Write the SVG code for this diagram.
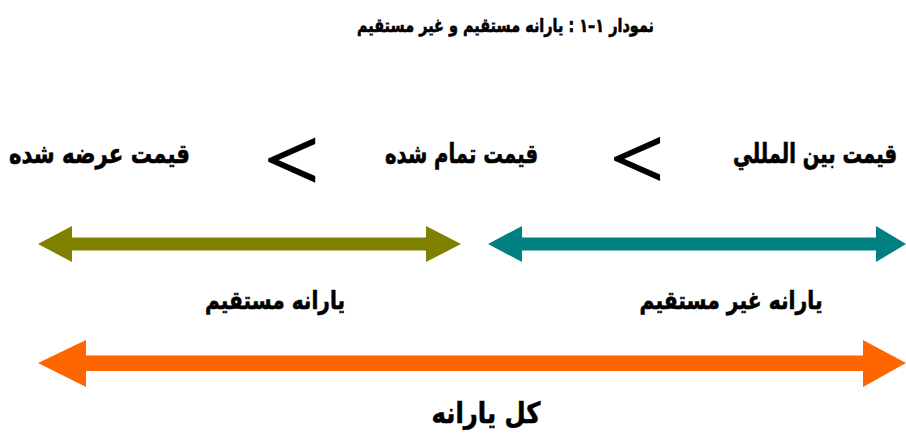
<svg xmlns="http://www.w3.org/2000/svg" width="906" height="437" viewBox="0 0 906 437">
  <style>
    .fa { font-family: "DejaVu Sans", "Noto Sans", sans-serif; font-weight: bold; fill: #000; stroke: #000; stroke-width: 0.6; direction: rtl; }
    .lt { font-family: "Liberation Serif", "Times New Roman", serif; fill: #000; stroke: #000; stroke-width: 2; }
    .olive { fill: #808000; }
    .teal { fill: #008080; }
    .orange { fill: #FF6600; }
  </style>
  <rect width="906" height="437" fill="#fff"/>

  <!-- title -->
  <g id="title">
    <text class="fa" x="505.5" y="32" font-size="19" text-anchor="middle" textLength="297" lengthAdjust="spacingAndGlyphs">نمودار ۱–۱ : يارانه مستقيم و غير مستقيم</text>
  </g>

  <!-- price levels -->
  <g id="price-international">
    <text class="fa" transform="translate(815 163) scale(1 1.2)" font-size="22.5" text-anchor="middle" textLength="164" lengthAdjust="spacingAndGlyphs">قيمت بين المللي</text>
  </g>
  <g id="price-final">
    <text class="fa" x="461.5" y="163" font-size="27" text-anchor="middle" textLength="153" lengthAdjust="spacingAndGlyphs">قيمت تمام شده</text>
  </g>
  <g id="price-supply">
    <text class="fa" x="99.5" y="163" font-size="27" text-anchor="middle" textLength="181" lengthAdjust="spacingAndGlyphs">قيمت عرضه شده</text>
  </g>

  <!-- comparison signs -->
  <g id="less-than-1">
    <text class="lt" transform="translate(264.5 189) scale(1.12 1)" font-size="86">&lt;</text>
  </g>
  <g id="less-than-2">
    <text class="lt" transform="translate(610.5 187) scale(1.12 1)" font-size="84">&lt;</text>
  </g>

  <!-- subsidy labels -->
  <g id="label-direct">
    <text class="fa" x="275" y="309" font-size="25" text-anchor="middle" textLength="140" lengthAdjust="spacingAndGlyphs">يارانه مستقيم</text>
  </g>
  <g id="label-indirect">
    <text class="fa" x="731" y="309" font-size="25" text-anchor="middle" textLength="183" lengthAdjust="spacingAndGlyphs">يارانه غير مستقيم</text>
  </g>
  <g id="label-total">
    <text class="fa" x="486" y="423" font-size="29" text-anchor="middle" textLength="109" lengthAdjust="spacingAndGlyphs">کل يارانه</text>
  </g>

  <!-- double-headed range arrows -->
  <g id="connectors">
    <polygon class="olive" points="38,244 72,226 72,237.5 426,237.5 426,226 461,244 426,262 426,250.5 72,250.5 72,262"/>
    <polygon class="teal" points="488,244 522,226 522,237.5 876,237.5 876,226 906,244 876,262 876,250.5 522,250.5 522,262"/>
    <polygon class="orange" points="38,363 86,340 86,355.5 863,355.5 863,340 906,363 863,387 863,371 86,371 86,387"/>
  </g>
</svg>
